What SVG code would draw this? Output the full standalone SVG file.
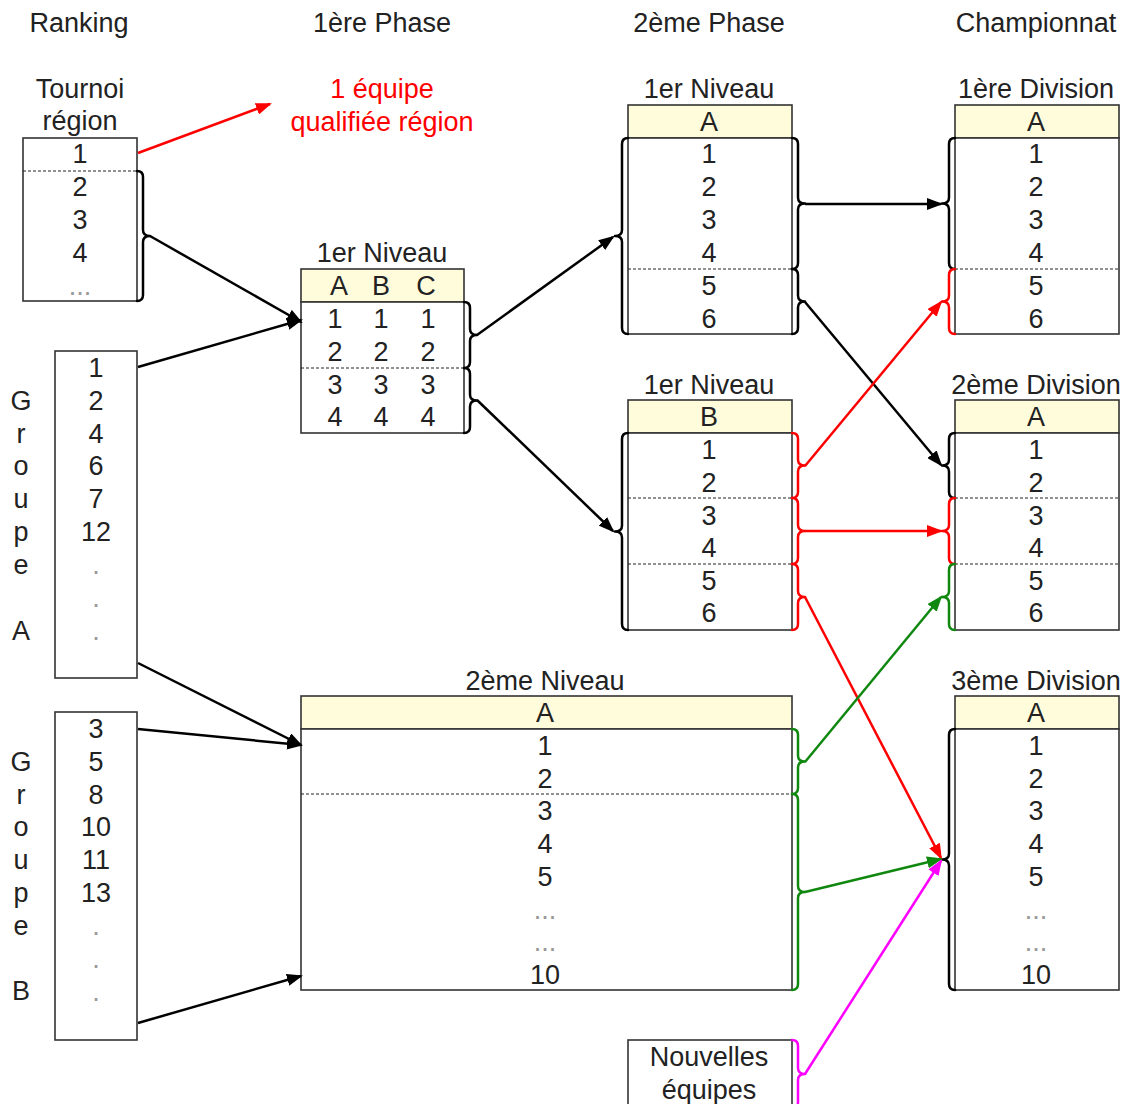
<svg xmlns="http://www.w3.org/2000/svg" width="1136" height="1104" viewBox="0 0 1136 1104">
<style>
text{font-family:"Liberation Sans",Arial,sans-serif;font-size:27px;fill:#222;text-anchor:middle}
.red{fill:#ff0000}
.dots{fill:#999}
.box{fill:#fff;stroke:#333;stroke-width:1.6}
.hdr{fill:#fffcdc;stroke:#333;stroke-width:1.6}
.dash{stroke:#222;stroke-width:1;stroke-dasharray:3,2;fill:none}
.br{fill:none;stroke-width:2.5;stroke-linecap:round;stroke-linejoin:round}
.k{stroke:#000}.r{stroke:#ff0000}.g{stroke:#108810}.m{stroke:#ff00ff}
.ar{fill:none;stroke-width:2.5}
</style>
<defs>
<marker id="ak" viewBox="0 0 16 12" refX="14" refY="6" markerWidth="16" markerHeight="12" markerUnits="userSpaceOnUse" orient="auto"><path d="M0,0 L16,6 L0,12 z" fill="#000"/></marker>
<marker id="ar" viewBox="0 0 16 12" refX="14" refY="6" markerWidth="16" markerHeight="12" markerUnits="userSpaceOnUse" orient="auto"><path d="M0,0 L16,6 L0,12 z" fill="#ff0000"/></marker>
<marker id="ag" viewBox="0 0 16 12" refX="14" refY="6" markerWidth="16" markerHeight="12" markerUnits="userSpaceOnUse" orient="auto"><path d="M0,0 L16,6 L0,12 z" fill="#108810"/></marker>
<marker id="am" viewBox="0 0 16 12" refX="14" refY="6" markerWidth="16" markerHeight="12" markerUnits="userSpaceOnUse" orient="auto"><path d="M0,0 L16,6 L0,12 z" fill="#ff00ff"/></marker>
</defs>
<rect width="1136" height="1104" fill="#fff"/>

<g id="titles">
<text x="79" y="32">Ranking</text>
<text x="382" y="32">1ère Phase</text>
<text x="709" y="32">2ème Phase</text>
<text x="1036" y="32">Championnat</text>
</g>

<g id="tournoi">
<text x="80" y="98">Tournoi</text>
<text x="80" y="130">région</text>
<rect class="box" x="23" y="138" width="114" height="163"/>
<line class="dash" x1="23" y1="171" x2="137" y2="171"/>
<text x="80" y="163">1</text>
<text x="80" y="196">2</text>
<text x="80" y="229">3</text>
<text x="80" y="262">4</text>
<text x="80" y="295" class="dots">...</text>
<path class="br k" d="M137,171 q6,0 6,6 V230 q0,6 7,6 q-7,0 -7,6 V295 q0,6 -6,6"/>
</g>

<g id="qualifiee">
<text x="382" y="98" class="red">1 équipe</text>
<text x="382" y="131" class="red">qualifiée région</text>
</g>

<g id="groupeA">
<rect class="box" x="55" y="351" width="82" height="327"/>
<text x="96" y="377">1</text>
<text x="96" y="410">2</text>
<text x="96" y="443">4</text>
<text x="96" y="475">6</text>
<text x="96" y="508">7</text>
<text x="96" y="541">12</text>
<text x="96" y="574" class="dots">.</text>
<text x="96" y="607" class="dots">.</text>
<text x="96" y="640" class="dots">.</text>
<text x="21" y="410">G</text>
<text x="21" y="443">r</text>
<text x="21" y="475">o</text>
<text x="21" y="508">u</text>
<text x="21" y="541">p</text>
<text x="21" y="574">e</text>
<text x="21" y="640">A</text>
</g>

<g id="groupeB">
<rect class="box" x="55" y="712" width="82" height="328"/>
<text x="96" y="738">3</text>
<text x="96" y="771">5</text>
<text x="96" y="804">8</text>
<text x="96" y="836">10</text>
<text x="96" y="869">11</text>
<text x="96" y="902">13</text>
<text x="96" y="935" class="dots">.</text>
<text x="96" y="968" class="dots">.</text>
<text x="96" y="1001" class="dots">.</text>
<text x="21" y="771">G</text>
<text x="21" y="804">r</text>
<text x="21" y="836">o</text>
<text x="21" y="869">u</text>
<text x="21" y="902">p</text>
<text x="21" y="935">e</text>
<text x="21" y="1000">B</text>
</g>

<g id="phase1-niveau1">
<text x="382" y="262">1er Niveau</text>
<rect class="hdr" x="301" y="269" width="163" height="33"/>
<rect class="box" x="301" y="302" width="163" height="131"/>
<line class="dash" x1="301" y1="368" x2="464" y2="368"/>
<text x="339" y="295">A</text><text x="381" y="295">B</text><text x="426" y="295">C</text>
<text x="335" y="328">1</text><text x="381" y="328">1</text><text x="428" y="328">1</text>
<text x="335" y="361">2</text><text x="381" y="361">2</text><text x="428" y="361">2</text>
<text x="335" y="394">3</text><text x="381" y="394">3</text><text x="428" y="394">3</text>
<text x="335" y="426">4</text><text x="381" y="426">4</text><text x="428" y="426">4</text>
<path class="br k" d="M464,302 q6,0 6,6 V329 q0,6 7,6 q-7,0 -7,6 V362 q0,6 -6,6"/>
<path class="br k" d="M464,368 q6,0 6,6 V394.5 q0,6 7,6 q-7,0 -7,6 V427 q0,6 -6,6"/>
</g>

<g id="phase2-niveau1-A">
<text x="709" y="98">1er Niveau</text>
<rect class="hdr" x="628" y="105" width="164" height="33"/>
<rect class="box" x="628" y="138" width="164" height="196"/>
<line class="dash" x1="628" y1="269" x2="792" y2="269"/>
<text x="709" y="131">A</text>
<text x="709" y="163">1</text>
<text x="709" y="196">2</text>
<text x="709" y="229">3</text>
<text x="709" y="262">4</text>
<text x="709" y="295">5</text>
<text x="709" y="328">6</text>
<path class="br k" d="M628,138 q-6,0 -6,6 V230 q0,6 -7,6 q7,0 7,6 V328 q0,6 6,6"/>
<path class="br k" d="M792,138 q6,0 6,6 V197.5 q0,6 7,6 q-7,0 -7,6 V263 q0,6 -6,6"/>
<path class="br k" d="M792,269 q6,0 6,6 V295.5 q0,6 7,6 q-7,0 -7,6 V328 q0,6 -6,6"/>
</g>

<g id="phase2-niveau1-B">
<text x="709" y="394">1er Niveau</text>
<rect class="hdr" x="628" y="400" width="164" height="33"/>
<rect class="box" x="628" y="433" width="164" height="197"/>
<line class="dash" x1="628" y1="498" x2="792" y2="498"/>
<line class="dash" x1="628" y1="564" x2="792" y2="564"/>
<text x="709" y="426">B</text>
<text x="709" y="459">1</text>
<text x="709" y="492">2</text>
<text x="709" y="525">3</text>
<text x="709" y="557">4</text>
<text x="709" y="590">5</text>
<text x="709" y="622">6</text>
<path class="br k" d="M628,433 q-6,0 -6,6 V525.5 q0,6 -7,6 q7,0 7,6 V624 q0,6 6,6"/>
<path class="br r" d="M792,433 q6,0 6,6 V459.5 q0,6 7,6 q-7,0 -7,6 V492 q0,6 -6,6"/>
<path class="br r" d="M792,498 q6,0 6,6 V525 q0,6 7,6 q-7,0 -7,6 V558 q0,6 -6,6"/>
<path class="br r" d="M792,564 q6,0 6,6 V591 q0,6 7,6 q-7,0 -7,6 V624 q0,6 -6,6"/>
</g>

<g id="phase2-niveau2">
<text x="545" y="690">2ème Niveau</text>
<rect class="hdr" x="301" y="696" width="491" height="33"/>
<rect class="box" x="301" y="729" width="491" height="261"/>
<line class="dash" x1="301" y1="794" x2="792" y2="794"/>
<text x="545" y="722">A</text>
<text x="545" y="755">1</text>
<text x="545" y="788">2</text>
<text x="545" y="820">3</text>
<text x="545" y="853">4</text>
<text x="545" y="886">5</text>
<text x="545" y="919" class="dots">...</text>
<text x="545" y="951" class="dots">...</text>
<text x="545" y="984">10</text>
<path class="br g" d="M792,729 q6,0 6,6 V755.5 q0,6 7,6 q-7,0 -7,6 V788 q0,6 -6,6"/>
<path class="br g" d="M792,794 q6,0 6,6 V886 q0,6 7,6 q-7,0 -7,6 V984 q0,6 -6,6"/>
</g>

<g id="nouvelles">
<rect class="box" x="628" y="1040" width="164" height="70"/>
<text x="709" y="1066">Nouvelles</text>
<text x="709" y="1099">équipes</text>
<path class="br m" d="M792,1040 q6,0 6,6 V1068 q0,6 7,6 q-7,0 -7,6 V1102 q0,6 -6,6"/>
</g>

<g id="division1">
<text x="1036" y="98">1ère Division</text>
<rect class="hdr" x="955" y="105" width="164" height="33"/>
<rect class="box" x="955" y="138" width="164" height="196"/>
<line class="dash" x1="955" y1="269" x2="1119" y2="269"/>
<text x="1036" y="131">A</text>
<text x="1036" y="163">1</text>
<text x="1036" y="196">2</text>
<text x="1036" y="229">3</text>
<text x="1036" y="262">4</text>
<text x="1036" y="295">5</text>
<text x="1036" y="328">6</text>
<path class="br k" d="M955,138 q-6,0 -6,6 V197.5 q0,6 -7,6 q7,0 7,6 V263 q0,6 6,6"/>
<path class="br r" d="M955,269 q-6,0 -6,6 V295.5 q0,6 -7,6 q7,0 7,6 V328 q0,6 6,6"/>
</g>

<g id="division2">
<text x="1036" y="394">2ème Division</text>
<rect class="hdr" x="955" y="400" width="164" height="33"/>
<rect class="box" x="955" y="433" width="164" height="197"/>
<line class="dash" x1="955" y1="498" x2="1119" y2="498"/>
<line class="dash" x1="955" y1="564" x2="1119" y2="564"/>
<text x="1036" y="426">A</text>
<text x="1036" y="459">1</text>
<text x="1036" y="492">2</text>
<text x="1036" y="525">3</text>
<text x="1036" y="557">4</text>
<text x="1036" y="590">5</text>
<text x="1036" y="622">6</text>
<path class="br k" d="M955,433 q-6,0 -6,6 V459.5 q0,6 -7,6 q7,0 7,6 V492 q0,6 6,6"/>
<path class="br r" d="M955,498 q-6,0 -6,6 V525 q0,6 -7,6 q7,0 7,6 V558 q0,6 6,6"/>
<path class="br g" d="M955,564 q-6,0 -6,6 V591 q0,6 -7,6 q7,0 7,6 V624 q0,6 6,6"/>
</g>

<g id="division3">
<text x="1036" y="690">3ème Division</text>
<rect class="hdr" x="955" y="696" width="164" height="33"/>
<rect class="box" x="955" y="729" width="164" height="261"/>
<text x="1036" y="722">A</text>
<text x="1036" y="755">1</text>
<text x="1036" y="788">2</text>
<text x="1036" y="820">3</text>
<text x="1036" y="853">4</text>
<text x="1036" y="886">5</text>
<text x="1036" y="919" class="dots">...</text>
<text x="1036" y="951" class="dots">...</text>
<text x="1036" y="984">10</text>
<path class="br k" d="M955,729 q-6,0 -6,6 V853.5 q0,6 -7,6 q7,0 7,6 V984 q0,6 6,6"/>
</g>

<g id="connectors">
<line class="ar r" x1="138" y1="153" x2="270" y2="104" marker-end="url(#ar)"/>
<line class="ar k" x1="150" y1="236" x2="301" y2="322" marker-end="url(#ak)"/>
<line class="ar k" x1="138" y1="367" x2="301" y2="320" marker-end="url(#ak)"/>
<line class="ar k" x1="477" y1="335" x2="613" y2="237" marker-end="url(#ak)"/>
<line class="ar k" x1="477" y1="400" x2="613" y2="531" marker-end="url(#ak)"/>
<line class="ar k" x1="138" y1="663" x2="301" y2="745" marker-end="url(#ak)"/>
<line class="ar k" x1="138" y1="729" x2="301" y2="745" marker-end="url(#ak)"/>
<line class="ar k" x1="138" y1="1023" x2="301" y2="976" marker-end="url(#ak)"/>
<line class="ar k" x1="805" y1="204" x2="941" y2="204" marker-end="url(#ak)"/>
<line class="ar k" x1="805" y1="302" x2="941" y2="465" marker-end="url(#ak)"/>
<line class="ar r" x1="805" y1="466" x2="941" y2="302" marker-end="url(#ar)"/>
<line class="ar r" x1="805" y1="531" x2="941" y2="531" marker-end="url(#ar)"/>
<line class="ar r" x1="805" y1="597" x2="941" y2="858" marker-end="url(#ar)"/>
<line class="ar g" x1="805" y1="762" x2="941" y2="597" marker-end="url(#ag)"/>
<line class="ar g" x1="805" y1="892" x2="941" y2="859" marker-end="url(#ag)"/>
<line class="ar m" x1="805" y1="1074" x2="941" y2="861" marker-end="url(#am)"/>
</g>
</svg>
